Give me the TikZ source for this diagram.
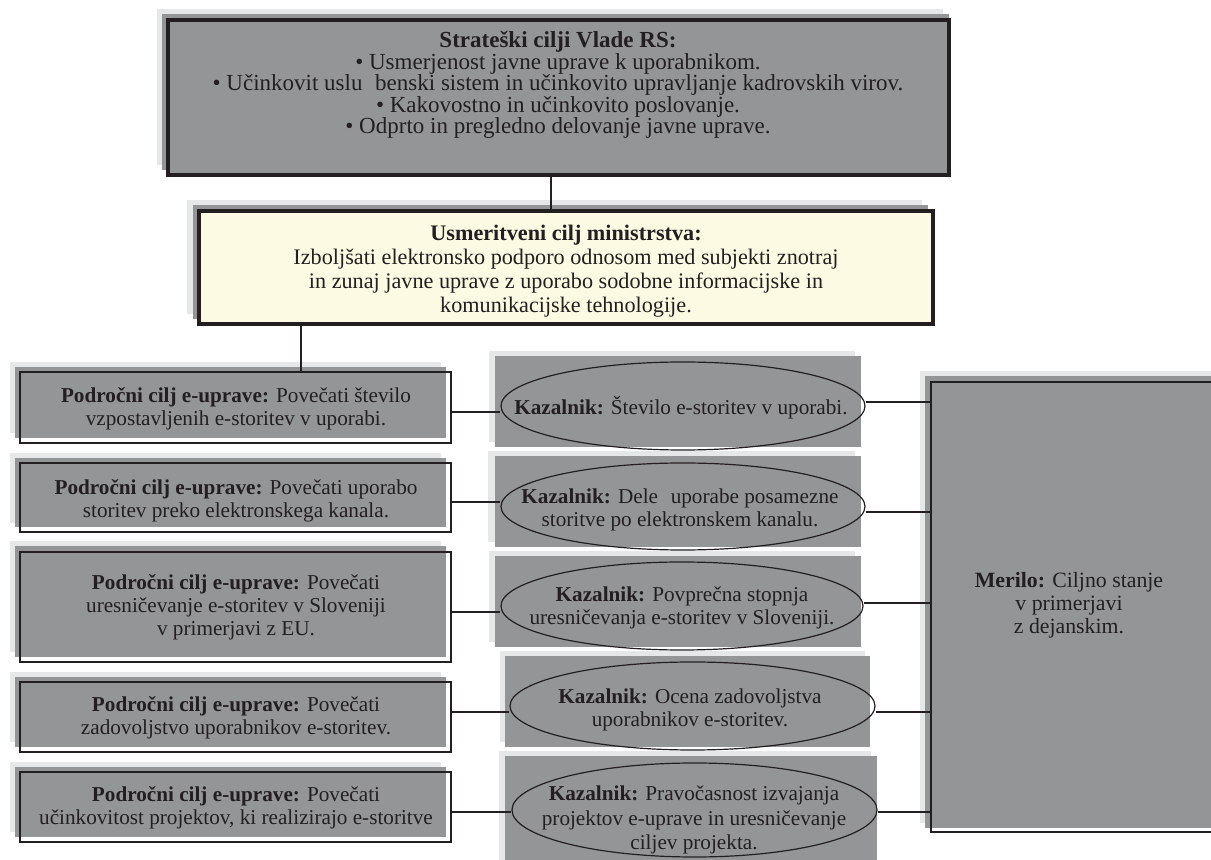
\documentclass[tikz,border=0pt]{standalone}
\usepackage{fontspec}
\setmainfont{Liberation Serif}
\usetikzlibrary{shapes.geometric,fit}
\definecolor{midg}{HTML}{949597}
\definecolor{lightg}{HTML}{E6E7E8}
\definecolor{yelf}{HTML}{FCFAE2}
\definecolor{ink}{HTML}{231F20}
\begin{document}
\begin{tikzpicture}[x=0.5pt,y=-0.5pt,
  boxframe/.style={draw=ink, inner sep=0pt, line width=#1},
  txt/.style={text=ink, align=center, inner sep=0pt, font=\fontsize{10.6}{11.6}\selectfont},
  toptxt/.style={txt, font=\fontsize{11.5}{10.8}\selectfont},
  yeltxt/.style={txt, font=\fontsize{11.1}{12}\selectfont},
  conn/.style={draw=ink, line width=0.6pt},
  ell/.style={ellipse, draw=ink, line width=0.6pt, inner sep=0pt, minimum width=#1},
  lightsh/.style={fill=lightg},
  midsh/.style={fill=midg}
]
\useasboundingbox (0,0) rectangle (1211,860);

% ---------- top box ----------
\fill[lightsh] (157,9) rectangle (943,165);
\fill[midsh] (162,14) rectangle (949,170);
\node[boxframe=2pt, fill=midg, fit={(168,20) (949,175)}] (top) {};

% ---------- ministry box ----------
\fill[lightsh] (187,200) rectangle (922,314);
\fill[midsh] (193,205) rectangle (928,319);
\node[boxframe=1.8pt, fill=yelf, fit={(199,211) (933,324)}] (yel) {};

% ---------- left boxes ----------
\fill[lightsh] (10,362) rectangle (441,433);
\fill[midsh] (15,367) rectangle (446,438);
\node[boxframe=0.75pt, fit={(20,372) (451,443)}] (l1) {};

\fill[lightsh] (10,453) rectangle (441,523);
\fill[midsh] (15,458) rectangle (446,527);
\node[boxframe=0.75pt, fit={(20,463) (451,532)}] (l2) {};

\fill[lightsh] (10,541) rectangle (441,652);
\fill[midsh] (15,546) rectangle (446,657);
\node[boxframe=0.75pt, fit={(20,552) (451,662)}] (l3) {};

\fill[lightsh] (10,672) rectangle (441,742);
\fill[midsh] (15,677) rectangle (446,747);
\node[boxframe=0.75pt, fit={(20,682) (451,752)}] (l4) {};

\fill[lightsh] (10,762) rectangle (441,832);
\fill[midsh] (15,767) rectangle (446,837);
\node[boxframe=0.75pt, fit={(20,772) (451,842)}] (l5) {};

% ---------- indicator panels ----------
\fill[lightsh] (489,351) rectangle (855,442);
\fill[midsh] (495,356) rectangle (861,447);
\fill[lightsh] (488,451) rectangle (855,542);
\fill[midsh] (495,456) rectangle (861,547);
\fill[lightsh] (489,551) rectangle (855,642);
\fill[midsh] (495,556) rectangle (861,647);
\fill[lightsh] (500,651) rectangle (865,742);
\fill[midsh] (505,656) rectangle (870,747);
\fill[lightsh] (499,751) rectangle (871,865);
\fill[midsh] (505,756) rectangle (877,865);

\node[ell=182pt, minimum height=44pt] (e1) at (683,406) {};
\node[ell=182pt, minimum height=43.5pt] (e2) at (683,506.5) {};
\node[ell=181pt, minimum height=44pt] (e3) at (682,606) {};
\node[ell=182.5pt, minimum height=44pt] (e4) at (692.5,706) {};
\node[ell=182.5pt, minimum height=47pt] (e5) at (694.5,810) {};

% ---------- measure box ----------
\fill[lightsh] (920,371) rectangle (1215,823);
\fill[midsh] (925,376) rectangle (1215,828);
\node[boxframe=1pt, fit={(931,382) (1216,832)}] (mer) {};

% ---------- connector heights ----------
\coordinate (vx1) at (551,0);
\coordinate (vx2) at (301,0);
\coordinate (a1) at (0,412);
\coordinate (a2) at (0,502);
\coordinate (a3) at (0,612);
\coordinate (a4) at (0,712);
\coordinate (a5) at (0,812);
\coordinate (b1) at (0,402);
\coordinate (b2) at (0,512);
\coordinate (b3) at (0,603);
\coordinate (b4) at (0,712);
\coordinate (b5) at (0,812);

\draw[conn] (top.south -| vx1) -- (yel.north -| vx1);
\draw[conn] (yel.south -| vx2) -- (l1.north -| vx2);
\foreach \i in {1,...,5}{
  \draw[conn] (l\i.east |- a\i) -- (e\i.west |- a\i);
  \draw[conn] (e\i.east |- b\i) -- (mer.west |- b\i);
}

% ---------- texts ----------
\node[toptxt] (ttop) at (558,85) {\textbf{Strateški cilji Vlade RS:}\\
 • Usmerjenost javne uprave k uporabnikom.\\
 • Učinkovit uslu\hspace{0.55em}benski sistem in učinkovito upravljanje kadrovskih virov.\\
 • Kakovostno in učinkovito poslovanje.\\
 • Odprto in pregledno delovanje javne uprave.};

\node[yeltxt] (tyel) at (566,271) {\textbf{Usmeritveni cilj ministrstva:}\\
 Izboljšati elektronsko podporo odnosom med subjekti znotraj\\
 in zunaj javne uprave z uporabo sodobne informacijske in\\
 komunikacijske tehnologije.};

\node[txt] (tl1) at (236,408.5) {\textbf{Področni cilj e-uprave:} Povečati število\\ vzpostavljenih e-storitev v uporabi.};
\node[txt] (tl2) at (236,501) {\textbf{Področni cilj e-uprave:} Povečati uporabo\\ storitev preko elektronskega kanala.};
\node[txt] (tl3) at (236,607) {\textbf{Področni cilj e-uprave:} Povečati\\ uresničevanje e-storitev v Sloveniji\\ v primerjavi z EU.};
\node[txt] (tl4) at (236,718) {\textbf{Področni cilj e-uprave:} Povečati\\ zadovoljstvo uporabnikov e-storitev.};
\node[txt] (tl5) at (236,808) {\textbf{Področni cilj e-uprave:} Povečati\\ učinkovitost projektov, ki realizirajo e-storitve};

\node[txt] (te1) at (681,408) {\textbf{Kazalnik:} Število e-storitev v uporabi.};
\node[txt] (te2) at (680,510) {\textbf{Kazalnik:} Dele\hspace{0.6em}uporabe posamezne\\ storitve po elektronskem kanalu.};
\node[txt] (te3) at (682,608) {\textbf{Kazalnik:} Povprečna stopnja\\ uresničevanja e-storitev v Sloveniji.};
\node[txt] (te4) at (690,710) {\textbf{Kazalnik:} Ocena zadovoljstva\\ uporabnikov e-storitev.};
\node[txt, font=\fontsize{10.6}{12.4}\selectfont] (te5) at (694,820) {\textbf{Kazalnik:} Pravočasnost izvajanja\\ projektov e-uprave in uresničevanje\\ ciljev projekta.};

\node[txt, font=\fontsize{10.9}{11.4}\selectfont] (tmer) at (1069,605) {\textbf{Merilo:} Ciljno stanje\\ v primerjavi\\ z dejanskim.};
\end{tikzpicture}
\end{document}
